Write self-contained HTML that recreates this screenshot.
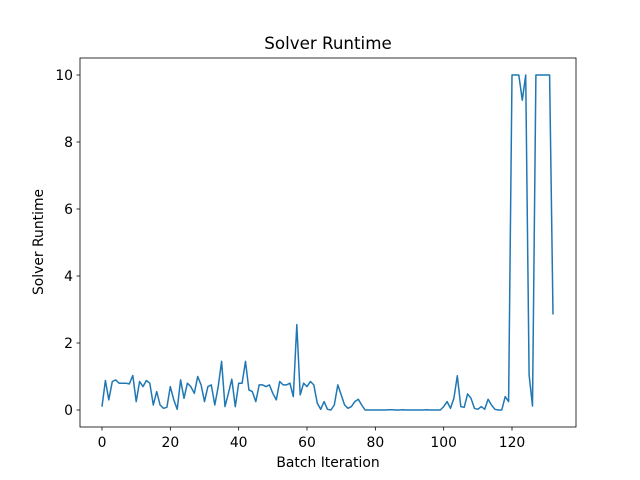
<!DOCTYPE html>
<html><head><meta charset="utf-8"><style>
body{margin:0;background:#fff}
svg{display:block;font-family:"DejaVu Sans","Liberation Sans",sans-serif}
</style></head><body>
<svg id="chart" width="640" height="480">
<rect width="640" height="480" fill="#fff"/>
<text x="328" y="49" text-anchor="middle" font-size="16.7">Solver Runtime</text>
<g id="xt"></g>
<g id="yt"></g>
<path id="line" fill="none" stroke="#1f77b4" stroke-width="1.5" stroke-linejoin="round"/>
<rect x="80" y="58" width="496" height="369" fill="none" stroke="#000" stroke-width="0.8"/>
<text x="328" y="467" text-anchor="middle" font-size="13.9">Batch Iteration</text>
<text transform="translate(43,242) rotate(-90)" text-anchor="middle" font-size="13.9">Solver Runtime</text>
</svg>
<script>
const runtime=[0.1,0.88,0.3,0.85,0.9,0.8,0.8,0.8,0.78,1.03,0.25,0.85,0.7,0.88,0.8,0.15,0.55,0.15,0.05,0.08,0.7,0.3,0.02,0.9,0.35,0.8,0.7,0.5,1.0,0.75,0.25,0.7,0.75,0.15,0.7,1.45,0.1,0.5,0.92,0.1,0.8,0.8,1.45,0.6,0.55,0.25,0.75,0.75,0.7,0.75,0.5,0.3,0.85,0.75,0.75,0.8,0.4,2.55,0.45,0.8,0.7,0.85,0.75,0.2,0.02,0.25,0.02,0.0,0.15,0.75,0.45,0.15,0.05,0.1,0.25,0.32,0.15,0.0,0,0,0,0,0,0,0.01,0.01,0,0,0.01,0,0,0,0,0,0,0.01,0,0,0,0,0.1,0.25,0.05,0.35,1.02,0.1,0.08,0.48,0.35,0.05,0.02,0.1,0.02,0.32,0.15,0.02,0.0,0.0,0.4,0.25,10,10,10,9.25,10,1.05,0.12,10,10,10,10,10,2.85];
const xTicks=[0,20,40,60,80,100,120];
const yTicks=[0,2,4,6,8,10];
const xs=v=>102+v*(410/120);
const ys=v=>410-v*33.5;
const NS="http://www.w3.org/2000/svg";
document.getElementById('line').setAttribute('d',runtime.map((v,i)=>(i?'L':'M')+xs(i).toFixed(1)+','+ys(v).toFixed(1)).join(''));
const xt=document.getElementById('xt'),yt=document.getElementById('yt');
xTicks.forEach(t=>{
 const l=document.createElementNS(NS,'line');
 l.setAttribute('x1',xs(t));l.setAttribute('x2',xs(t));l.setAttribute('y1',427);l.setAttribute('y2',430.5);l.setAttribute('stroke','#000');l.setAttribute('stroke-width','0.8');
 
 
 xt.appendChild(l);
 const s=document.createElementNS(NS,'text');
 s.setAttribute('x',xs(t));s.setAttribute('y',447);s.setAttribute('text-anchor','middle');s.setAttribute('font-size','13.9');s.textContent=t;
 
 
 xt.appendChild(s);
});
yTicks.forEach(t=>{
 const l=document.createElementNS(NS,'line');
 l.setAttribute('x1',76.5);l.setAttribute('x2',80);l.setAttribute('y1',ys(t));l.setAttribute('y2',ys(t));l.setAttribute('stroke','#000');l.setAttribute('stroke-width','0.8');
 
 
 yt.appendChild(l);
 const s=document.createElementNS(NS,'text');
 s.setAttribute('x',73);s.setAttribute('y',ys(t)+5);s.setAttribute('text-anchor','end');s.setAttribute('font-size','13.9');s.textContent=t;
 
 
 yt.appendChild(s);
});
</script>
</body></html>
